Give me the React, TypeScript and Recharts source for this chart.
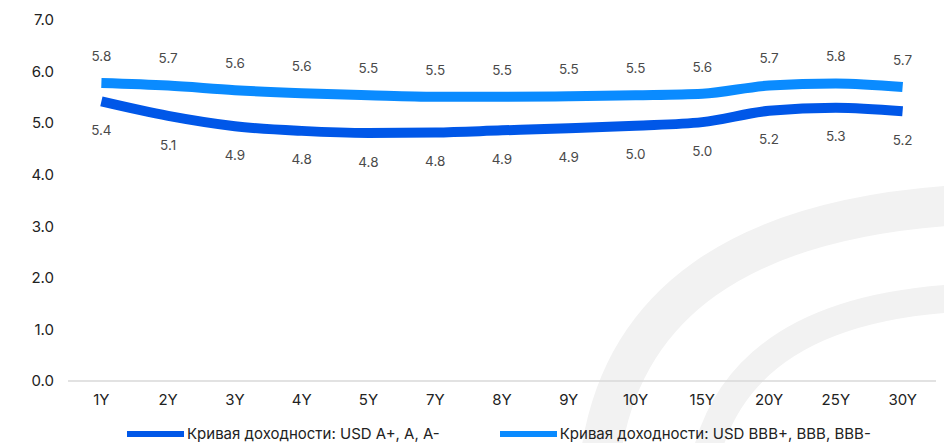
import { LabelList, Line, LineChart, XAxis, YAxis, Customized } from 'recharts';

const tenors = ['1Y', '2Y', '3Y', '4Y', '5Y', '7Y', '8Y', '9Y', '10Y', '15Y', '20Y', '25Y', '30Y'];
// Кривая доходности: USD A+, A, A-
const ratingA = [5.42, 5.14, 4.94, 4.85, 4.81, 4.82, 4.86, 4.9, 4.95, 5.02, 5.24, 5.3, 5.23];
// Кривая доходности: USD BBB+, BBB, BBB-
const ratingBBB = [5.78, 5.73, 5.64, 5.58, 5.54, 5.51, 5.51, 5.52, 5.54, 5.57, 5.73, 5.77, 5.7];
const yTicks = [0, 1, 2, 3, 4, 5, 6, 7];

const seriesNames = ['Кривая доходности: USD A+, A, A-', 'Кривая доходности: USD BBB+, BBB, BBB-'];
const DARK = '#0057e8';
const LIGHT = '#0a8bff';
const FONT = 'Inter, "Noto Sans", sans-serif';

const data = tenors.map((t, i) => ({ tenor: t, a: ratingA[i], bbb: ratingBBB[i] }));

// faint logo arcs in the background
function Watermark() {
  return (
    <g>
      <path d="M600,460 Q630,225 960,205" fill="none" stroke="#f2f2f2" strokeWidth={40} />
      <path d="M705,460 Q740,310 960,298" fill="none" stroke="#f2f2f2" strokeWidth={28} />
    </g>
  );
}

export default function App() {
  const fmt = (v: any) => Number(v).toFixed(1);
  return (
    <div style={{ position: 'absolute', left: 0, top: 0, width: 944, height: 443, background: '#fff', fontFamily: FONT }}>
      <LineChart width={944} height={443} data={data} margin={{ top: 20, right: 8, left: 0, bottom: 32 }}>
        <Customized component={Watermark} />
        <XAxis
          dataKey="tenor"
          scale="band"
          axisLine={{ stroke: '#d9d9d9', strokeWidth: 1.5 }}
          tickLine={false}
          tickSize={0}
          tickMargin={13}
          height={30}
          tick={{ fill: '#222', fontSize: 15, fontFamily: FONT }}
        />
        <YAxis
          domain={[0, 7]}
          ticks={yTicks}
          width={68}
          axisLine={false}
          tickLine={false}
          tickSize={0}
          tickMargin={14}
          tickFormatter={fmt}
          tick={{ fill: '#222', fontSize: 15, fontFamily: FONT }}
        />
        <Line dataKey="a" stroke={DARK} strokeWidth={10} dot={false} isAnimationActive={false} type="monotone">
          <LabelList dataKey="a" position="bottom" offset={24} formatter={fmt} fill="#4a4a4a" fontSize={13.5} fontFamily={FONT} />
        </Line>
        <Line dataKey="bbb" stroke={LIGHT} strokeWidth={10} dot={false} isAnimationActive={false} type="monotone">
          <LabelList dataKey="bbb" position="top" offset={22} formatter={fmt} fill="#4a4a4a" fontSize={13.5} fontFamily={FONT} />
        </Line>
      </LineChart>
      <div style={{ position: 'absolute', top: 424, left: 127, display: 'flex', alignItems: 'center', fontSize: 15, color: '#222' }}>
        <span style={{ display: 'inline-block', width: 57, height: 6, background: DARK, marginRight: 3 }} />
        <span>{seriesNames[0]}</span>
        <span style={{ display: 'inline-block', width: 57, height: 6, background: LIGHT, marginLeft: 60, marginRight: 3 }} />
        <span>{seriesNames[1]}</span>
      </div>
    </div>
  );
}
